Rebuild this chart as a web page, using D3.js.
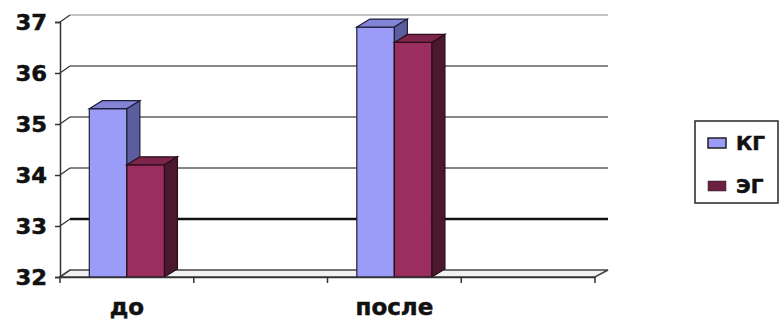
<!DOCTYPE html>
<html><head><meta charset="utf-8">
<script src="https://cdn.jsdelivr.net/npm/d3@7"></script>
<style>
body{margin:0;background:#fff;}
text{font-family:"DejaVu Sans",Verdana,sans-serif;font-weight:bold;fill:#111;stroke:#111;stroke-width:0.5px;}
</style></head>
<body><svg id="c" width="781" height="320"></svg>
<script>
const categories = ["до", "", "после", ""];
const seriesNames = ["КГ", "ЭГ"];
const kgValues = [35.3, null, 36.9, null];
const egValues = [34.2, null, 36.6, null];
const yTicks = [32, 33, 34, 35, 36, 37];

const colors = {
  "КГ": {front: "#9b9cf7", top: "#8384d6", side: "#5b5d9e", stroke: "#1f1f3a"},
  "ЭГ": {front: "#9a2f5f", top: "#7c2449", side: "#4b1830", stroke: "#2a0d1a"}
};

const svg = d3.select("#c");
const x0 = 60, x1 = 595, yBottom = 277, yTop = 22;
const wdx = 10, wdy = -7;      // wall depth
const bdx = 13, bdy = -8;      // bar depth

const x = d3.scaleBand().domain(d3.range(categories.length)).range([x0, x1]);
const xs = d3.scaleBand().domain(seriesNames).range([0, x.bandwidth()]).paddingOuter(0.78);
const y = d3.scaleLinear().domain([32, 37]).range([yBottom, yTop]);

// back wall gridlines
svg.append("g").selectAll("line").data(yTicks.slice(1)).join("line")
  .attr("x1", x0 + wdx).attr("x2", x1 + wdx + 3)
  .attr("y1", d => y(d) + wdy).attr("y2", d => y(d) + wdy)
  .attr("stroke", d => d === 37 ? "#8a8a8a" : "#111")
  .attr("stroke-width", d => d === 33 ? 2.6 : 1.2);
// side wall diagonals
svg.append("g").selectAll("line").data(yTicks).join("line")
  .attr("x1", x0).attr("y1", d => y(d))
  .attr("x2", x0 + wdx).attr("y2", d => y(d) + wdy)
  .attr("stroke", "#333").attr("stroke-width", 1.2);

// floor
svg.append("path")
  .attr("d", `M${x0},${yBottom}L${x0 + wdx},${yBottom + wdy}L${x1 + wdx + 3},${yBottom + wdy}L${x1},${yBottom}Z`)
  .attr("fill", "#f2f2f2").attr("stroke", "#444").attr("stroke-width", 1.6);

// y axis
const yAxis = svg.append("g").attr("transform", `translate(${x0},0)`)
  .call(d3.axisLeft(y).tickValues(yTicks).tickSize(5).tickPadding(7).tickFormat(d3.format("d")));
yAxis.select(".domain").attr("stroke", "#333").attr("stroke-width", 1.5);
yAxis.selectAll(".tick line").attr("stroke", "#333").attr("stroke-width", 1.5);
yAxis.selectAll(".tick text").attr("font-size", 21).attr("font-family", null).attr("fill", "#111")
  .attr("transform", "scale(1.08,1)").attr("dy", "0.36em");

// bars
const seriesData = [
  {name: "КГ", values: kgValues},
  {name: "ЭГ", values: egValues}
];
seriesData.forEach(s => {
  const c = colors[s.name];
  const g = svg.append("g");
  const data = s.values.map((v, i) => ({i, v})).filter(d => d.v != null);
  data.forEach(d => {
    const xl = x(d.i) + xs(s.name), xr = xl + xs.bandwidth();
    const yt = y(d.v), yb = y(32);
    g.append("rect").attr("x", xl).attr("y", yt).attr("width", xr - xl).attr("height", yb - yt)
      .attr("fill", c.front).attr("stroke", c.stroke).attr("stroke-width", 1.2);
    g.append("path").attr("d", `M${xl},${yt}L${xl + bdx},${yt + bdy}L${xr + bdx},${yt + bdy}L${xr},${yt}Z`)
      .attr("fill", c.top).attr("stroke", c.stroke).attr("stroke-width", 1.2);
    g.append("path").attr("d", `M${xr},${yt}L${xr + bdx},${yt + bdy}L${xr + bdx},${yb + bdy}L${xr},${yb}Z`)
      .attr("fill", c.side).attr("stroke", c.stroke).attr("stroke-width", 1.2);
  });
});

// x axis
const xAxis = svg.append("g").attr("transform", `translate(0,${yBottom})`)
  .call(d3.axisBottom(x).tickSize(0).tickPadding(22).tickFormat(i => categories[i]));
xAxis.select(".domain").attr("stroke", "#333").attr("stroke-width", 1.6);
xAxis.selectAll(".tick text").attr("font-size", 23).attr("font-family", null).attr("fill", "#111");
svg.append("g").selectAll("line").data(d3.range(categories.length + 1)).join("line")
  .attr("x1", i => i < categories.length ? x(i) : x1).attr("x2", i => i < categories.length ? x(i) : x1)
  .attr("y1", yBottom).attr("y2", yBottom + 6)
  .attr("stroke", "#333").attr("stroke-width", 1.5);

// legend
const leg = svg.append("g");
leg.append("rect").attr("x", 695).attr("y", 121).attr("width", 83).attr("height", 82)
  .attr("fill", "#fff").attr("stroke", "#333").attr("stroke-width", 1.6);
seriesNames.forEach((n, k) => {
  const cy = 143 + k * 43;
  leg.append("rect").attr("x", 708).attr("y", cy - 5).attr("width", 18).attr("height", 10)
    .attr("fill", k === 0 ? colors[n].front : "#6d2142").attr("stroke", "#222").attr("stroke-width", k === 0 ? 1.5 : 0.5);
  leg.append("text").attr("x", 736).attr("y", cy).attr("dy", "0.36em")
    .attr("font-size", 20).text(n);
});
</script>
</body></html>
